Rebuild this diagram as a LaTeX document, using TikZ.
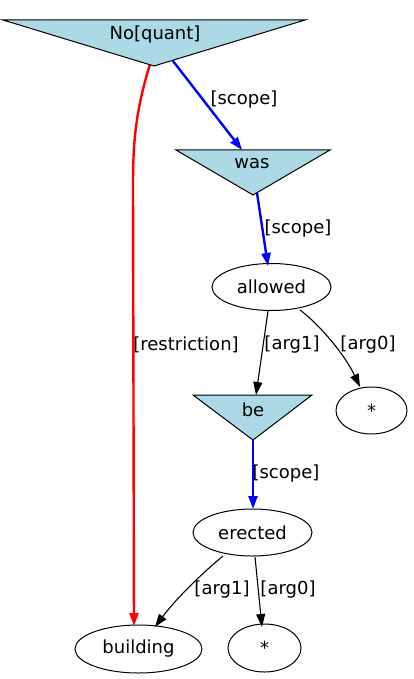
\documentclass[tikz,border=0pt]{standalone}
\usepackage{fontspec}
\setmainfont{DejaVu Sans}
\usetikzlibrary{shapes.geometric,arrows.meta}
\definecolor{lblue}{HTML}{ADD8E6}
\begin{document}
\begin{tikzpicture}[x=1pt,y=-1pt,font=\fontsize{18}{21}\selectfont,
  ell/.style={draw,ellipse,line width=1pt,inner sep=0pt,minimum height=47pt},
  tri/.style={draw,fill=lblue,line width=1pt,line join=miter},
  lab/.style={inner sep=0pt,anchor=center},
  tip/.style={-{Triangle[length=13pt,width=9pt]}},
  blueedge/.style={draw=blue,line width=2.4pt,tip},
  rededge/.style={draw=red,line width=2.4pt,tip},
  blackedge/.style={draw=black,line width=1.1pt,tip}]
\useasboundingbox (0,0) rectangle (413,679);

% ellipse nodes
\node[ell,minimum width=119pt] (allowed) at (271.5,287) {allowed};
\node[ell,minimum width=71pt] (star1) at (371.5,410.5) {*};
\node[ell,minimum width=119pt] (erected) at (252.5,532.5) {erected};
\node[ell,minimum width=127pt,minimum height=48pt] (building) at (138.5,649) {building};
\node[ell,minimum width=73pt,minimum height=48pt] (star2) at (264.5,648) {*};

% connector end points
\coordinate (noq-out1) at (173,61);
\coordinate (noq-out2) at (150,64);
\coordinate (was-in) at (242,150);
\coordinate (was-out) at (257,193);
\coordinate (allowed-in) at (268,266);
\coordinate (allowed-out1) at (268,311);
\coordinate (allowed-out2) at (300,310);
\coordinate (be-in) at (256,395);
\coordinate (star1-in) at (360,387);
\coordinate (be-out) at (253,440);
\coordinate (erected-in) at (253,509);
\coordinate (erected-out1) at (223,556);
\coordinate (erected-out2) at (255,557);
\coordinate (building-in1) at (134,626);
\coordinate (building-in2) at (155,627);
\coordinate (star2-in) at (262,627);

% connectors
\draw[rededge] (noq-out2) .. controls (136,110) and (133,140) .. (133,185) -- (building-in1);
\draw[blueedge] (noq-out1) -- (was-in);
\draw[blueedge] (was-out) -- (allowed-in);
\draw[blackedge] (allowed-out1) -- (be-in);
\draw[blackedge] (allowed-out2) .. controls (320,325) and (345,355) .. (star1-in);
\draw[blueedge] (be-out) -- (erected-in);
\draw[blackedge] (erected-out1) .. controls (200,575) and (175,600) .. (building-in2);
\draw[blackedge] (erected-out2) -- (star2-in);

% triangle nodes
\draw[tri] (3,20) -- (305,20) -- (154,66) -- cycle;
\node[lab] (noq) at (155,35) {No[quant]};
\draw[tri] (176,150) -- (330,150) -- (253,195) -- cycle;
\node[lab] (was) at (252,164) {was};
\draw[tri] (193,395) -- (312,395) -- (253,440) -- cycle;
\node[lab] (be) at (253,410) {be};

% labels
\node[lab] (l1) at (244,100) {[scope]};
\node[lab] (l2) at (186,345) {[restriction]};
\node[lab] (l3) at (298,229) {[scope]};
\node[lab] (l4) at (292,345) {[arg1]};
\node[lab] (l5) at (368,345) {[arg0]};
\node[lab] (l6) at (286,474) {[scope]};
\node[lab] (l7) at (222,590) {[arg1]};
\node[lab] (l8) at (288,590) {[arg0]};
\end{tikzpicture}
\end{document}
